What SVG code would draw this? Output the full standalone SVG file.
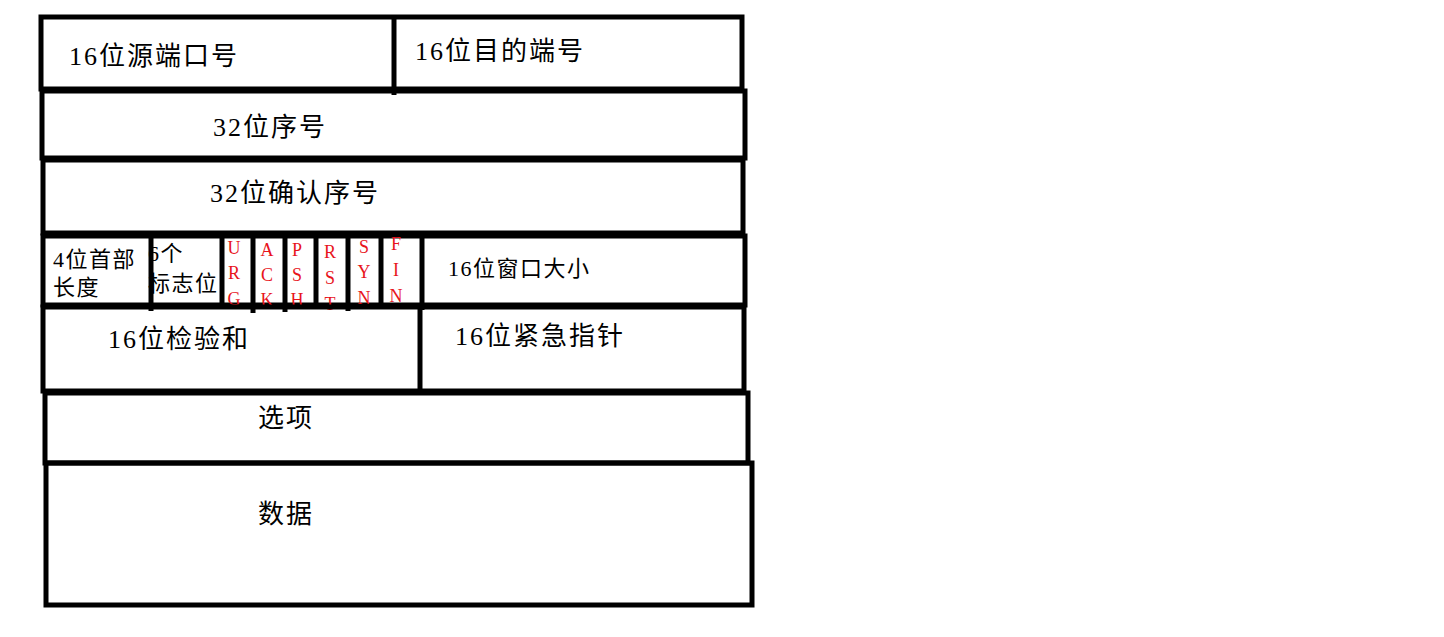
<svg xmlns="http://www.w3.org/2000/svg" width="1444" height="637" viewBox="0 0 1444 637">
<style>
.b{fill:none;stroke:#000;stroke-width:5}
.l{stroke:#000;stroke-width:5}
.t{font-family:"Liberation Serif","Noto Sans CJK SC",serif;font-size:26px;letter-spacing:2px;fill:#000}
.s{font-family:"Liberation Serif","Noto Sans CJK SC",serif;font-size:22px;letter-spacing:1.5px;fill:#000}
.f{font-family:"Liberation Serif",serif;font-size:18px;fill:#e8141c;text-anchor:middle}
</style>
<rect width="1444" height="637" fill="#fff"/>
<g id="row1"><rect class="b" x="41" y="17" width="701" height="72"/><line class="l" x1="394" y1="17" x2="394" y2="95"/>
<text class="t" x="69" y="65">16位源端口号</text><text class="t" x="415" y="60">16位目的端号</text></g>
<g id="row2"><rect class="b" x="42" y="91" width="703" height="67"/><text class="t" x="213" y="136">32位序号</text></g>
<g id="row3"><rect class="b" x="43" y="160" width="700" height="73"/><text class="t" x="210" y="202">32位确认序号</text></g>
<g id="row4"><rect class="b" x="43" y="236" width="702" height="69"/>
<line class="l" x1="151" y1="236" x2="151" y2="311"/><line class="l" x1="222" y1="236" x2="222" y2="309"/>
<line class="l" x1="253" y1="236" x2="253" y2="313"/><line class="l" x1="285" y1="236" x2="285" y2="312"/>
<line class="l" x1="316" y1="236" x2="316" y2="307"/><line class="l" x1="348" y1="236" x2="348" y2="311"/>
<line class="l" x1="381" y1="236" x2="381" y2="307"/><line class="l" x1="422" y1="236" x2="422" y2="310"/>
<text class="s" x="53" y="267">4位首部</text><text class="s" x="53" y="295">长度</text>
<text class="s" x="148" y="261">6个</text><text class="s" x="148" y="291">标志位</text>
<text class="f" x="234" y="254">U</text><text class="f" x="234" y="279">R</text><text class="f" x="234" y="305">G</text>
<text class="f" x="267" y="256">A</text><text class="f" x="267" y="281">C</text><text class="f" x="267" y="306">K</text>
<text class="f" x="297" y="256">P</text><text class="f" x="297" y="281">S</text><text class="f" x="297" y="306">H</text>
<text class="f" x="330" y="258">R</text><text class="f" x="330" y="284">S</text><text class="f" x="330" y="310">T</text>
<text class="f" x="364" y="253">S</text><text class="f" x="364" y="278">Y</text><text class="f" x="364" y="304">N</text>
<text class="f" x="396" y="250">F</text><text class="f" x="396" y="276">I</text><text class="f" x="396" y="302">N</text>
<text class="s" x="448" y="276">16位窗口大小</text></g>
<g id="row5"><rect class="b" x="43" y="307" width="701" height="84"/><line class="l" x1="420" y1="307" x2="420" y2="391"/>
<text class="t" x="108" y="348">16位检验和</text><text class="t" x="455" y="345">16位紧急指针</text></g>
<g id="row6"><rect class="b" x="45" y="393" width="703" height="70"/><text class="t" x="258" y="427">选项</text></g>
<g id="row7"><rect class="b" x="46" y="463" width="706" height="142"/><text class="t" x="258" y="523">数据</text></g>
<g id="connectors"/>
</svg>
